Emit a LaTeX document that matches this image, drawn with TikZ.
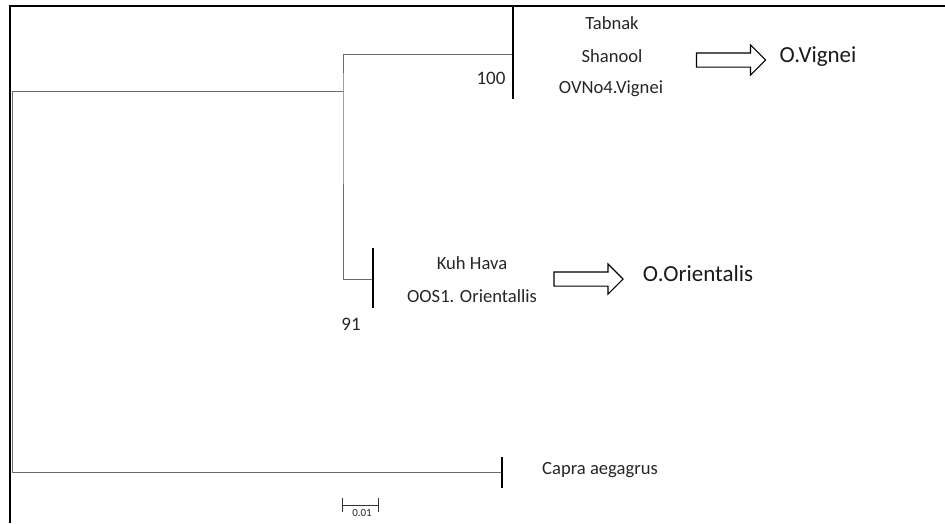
\documentclass[tikz,border=0pt]{standalone}
\usepackage{fontspec}
\setmainfont{Carlito}
\usetikzlibrary{shapes.arrows}
\tikzset{
  branch/.style={draw=black!58,line width=1pt},
  cladebar/.style={draw=black,line width=1.5pt},
  taxon/.style={text=black!85,font=\fontsize{18.6}{22}\selectfont,text height=0.65em,text depth=0.2em,inner sep=0pt},
  support/.style={text=black!85,font=\fontsize{19}{22}\selectfont,inner sep=0pt},
  group/.style={text=black!90,font=\fontsize{23}{27}\selectfont,text height=0.65em,text depth=0.2em,inner sep=0pt},
  bigarrow/.style={single arrow,draw=black,line width=1.1pt,minimum height=69pt,inner xsep=0pt,inner ysep=6.5pt,single arrow head extend=8pt},
}
\begin{document}
\begin{tikzpicture}[x=1pt,y=-1pt]
\useasboundingbox (0,0) rectangle (945,523);
% frame
\draw[line width=1.8pt,black] (10,523) -- (10,6) -- (945,6);
% tree
\coordinate (rtop) at (12,91);
\coordinate (rbot) at (12,472);
\coordinate (inner) at (343,91);
\coordinate (vig) at (513,54);
\coordinate (ori) at (373,279);
\coordinate (cap) at (502,472);
\draw[branch] (inner) -- (rtop) -- (rbot) -- (cap);
\draw[branch] (vig) -| (inner) |- (ori);
\draw[cladebar] ([yshift=47pt]vig) -- ([yshift=-45pt]vig);
\draw[cladebar] ([yshift=31pt]ori) -- ([yshift=-29pt]ori);
\draw[cladebar] ([yshift=15pt]cap) -- ([yshift=-16pt]cap);
\node[support] (bs100) at (491,78) {100};
\node[support] (bs91) at (351,324) {91};
% taxa
\node[taxon] (tabnak) at (612,27) {Tabnak};
\node[taxon] (shanool) at (612,60) {Shanool};
\node[taxon] (ovno) at (611,91) {OVNo4.Vignei};
\node[taxon] (kuh) at (472,267) {Kuh Hava};
\node[taxon] (oos) at (472,300) {OOS1. Orientallis};
\node[taxon] (capra) at (600,472) {Capra aegagrus};
% groups
\node[bigarrow] (arr1) at (727.5,60) {};
\node[group] (vignei) at (818,60) {O.Vignei};
\node[bigarrow] (arr2) at (585,279) {};
\node[group] (orient) at (698,279) {O.Orientalis};
% scale bar
\coordinate (sbl) at (342,505);
\coordinate (sbr) at (378,505);
\draw[black!80,line width=0.8pt] (sbl) -- (sbr);
\draw[black!80,line width=0.8pt] ([yshift=7pt]sbl) -- ([yshift=-7pt]sbl);
\draw[black!80,line width=0.8pt] ([yshift=7pt]sbr) -- ([yshift=-7pt]sbr);
\node[font=\fontsize{11}{13}\selectfont,text=black!85,inner sep=0pt] (sblab) at (362,513) {0.01};
\end{tikzpicture}
\end{document}
